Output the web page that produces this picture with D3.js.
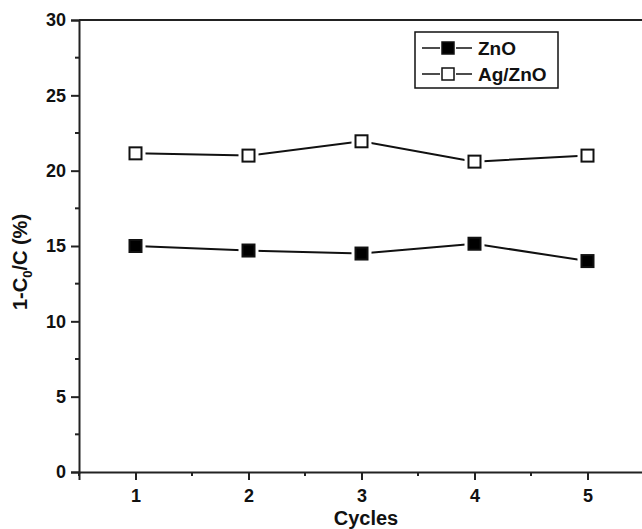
<!DOCTYPE html>
<html><head><meta charset="utf-8">
<script src="https://cdn.jsdelivr.net/npm/d3@7"></script>
<style>body{margin:0;background:#fff}svg{display:block;font-family:"Liberation Sans",Arial,sans-serif}</style>
</head><body><svg id="c" width="642" height="529"></svg>
<script>
const cycles = [1, 2, 3, 4, 5];
const zno = [15.0, 14.7, 14.5, 15.15, 14.0];
const agzno = [21.15, 21.0, 21.95, 20.6, 21.0];
const yTicks = [0, 5, 10, 15, 20, 25, 30];
const yMinor = [2.5, 7.5, 12.5, 17.5, 22.5, 27.5];
const xMinor = [0.5, 1.5, 2.5, 3.5, 4.5, 5.5];
const seriesNames = ["ZnO", "Ag/ZnO"];

const svg = d3.select("#c");
const x = d3.scaleLinear().domain([0.5, 5.5]).range([79, 644]);
const y = d3.scaleLinear().domain([0, 30]).range([472, 20]);
const FF = '"Liberation Sans",Arial,sans-serif';

// frame top/right
svg.append("line").attr("x1", x(0.5)).attr("x2", x(5.5)).attr("y1", y(30)).attr("y2", y(30))
  .attr("stroke", "#222").attr("stroke-width", 2);
svg.append("line").attr("x1", x(5.5)).attr("x2", x(5.5)).attr("y1", y(30)).attr("y2", y(0))
  .attr("stroke", "#222").attr("stroke-width", 2);

// x axis
const gx = svg.append("g").attr("transform", `translate(0,${y(0)})`)
  .call(d3.axisBottom(x).tickValues(cycles).tickFormat(d3.format("d")).tickSize(8).tickPadding(9));
gx.append("g").selectAll("line").data(xMinor).join("line")
  .attr("x1", d => x(d)).attr("x2", d => x(d)).attr("y1", 0).attr("y2", 4)
  .attr("stroke", "#222").attr("stroke-width", 2);
// y axis
const gy = svg.append("g").attr("transform", `translate(${x(0.5)},0)`)
  .call(d3.axisLeft(y).tickValues(yTicks).tickFormat(d3.format("d")).tickSize(8).tickPadding(5));
gy.append("g").selectAll("line").data(yMinor).join("line")
  .attr("y1", d => y(d)).attr("y2", d => y(d)).attr("x1", 0).attr("x2", -4)
  .attr("stroke", "#222").attr("stroke-width", 2);

[gx, gy].forEach(g => {
  g.attr("font-size", 18).attr("font-family", FF).attr("font-weight", "bold");
  g.select(".domain").attr("stroke", "#222").attr("stroke-width", 2);
  g.selectAll(".tick line").attr("stroke", "#222").attr("stroke-width", 2);
  g.selectAll(".tick text").attr("fill", "#111");
});

// axis titles
svg.append("text").attr("x", 366).attr("y", 525).attr("text-anchor", "middle")
  .attr("font-size", 20).attr("font-weight", "bold").attr("fill", "#111").text("Cycles");
const yl = svg.append("text").attr("transform", "translate(27,262) rotate(-90)").attr("text-anchor", "middle")
  .attr("font-size", 20).attr("font-weight", "bold").attr("fill", "#111");
yl.append("tspan").text("1-C");
yl.append("tspan").attr("font-size", 13).attr("dy", 5).text("0");
yl.append("tspan").attr("dy", -5).text("/C (%)");

// series
const data = [
  { name: seriesNames[0], vals: zno, fill: "#000" },
  { name: seriesNames[1], vals: agzno, fill: "#fff" }
];
const line = d3.line().x((d, i) => x(cycles[i])).y(d => y(d));
const ms = 14;
data.forEach(s => {
  svg.append("path").datum(s.vals).attr("d", line).attr("fill", "none").attr("stroke", "#111").attr("stroke-width", 2);
  svg.append("g").selectAll("rect").data(s.vals).join("rect")
    .attr("x", (d, i) => x(cycles[i]) - ms / 2 - 3).attr("y", d => y(d) - ms / 2 - 3)
    .attr("width", ms + 6).attr("height", ms + 6).attr("fill", "#fff");
  svg.append("g").selectAll("rect").data(s.vals).join("rect")
    .attr("x", (d, i) => x(cycles[i]) - ms / 2 + 1).attr("y", d => y(d) - ms / 2 + 1)
    .attr("width", ms - 2).attr("height", ms - 2).attr("fill", s.fill).attr("stroke", "#111").attr("stroke-width", 2);
});

// legend
const lg = svg.append("g");
lg.append("rect").attr("x", 415).attr("y", 32).attr("width", 143).attr("height", 56)
  .attr("fill", "#fff").attr("stroke", "#111").attr("stroke-width", 1.5);
data.forEach((s, i) => {
  const cy = 48 + i * 26;
  lg.append("line").attr("x1", 422).attr("x2", 472).attr("y1", cy).attr("y2", cy).attr("stroke", "#111").attr("stroke-width", 1.5);
  lg.append("rect").attr("x", 440).attr("y", cy - 8).attr("width", 16).attr("height", 16).attr("fill", "#fff");
  lg.append("rect").attr("x", 442).attr("y", cy - 6).attr("width", 12).attr("height", 12)
    .attr("fill", s.fill).attr("stroke", "#111").attr("stroke-width", 1.5);
  lg.append("text").attr("x", 478).attr("y", cy + 7).attr("font-size", 19).attr("font-weight", "bold")
    .attr("fill", "#111").text(s.name);
});
</script></body></html>
